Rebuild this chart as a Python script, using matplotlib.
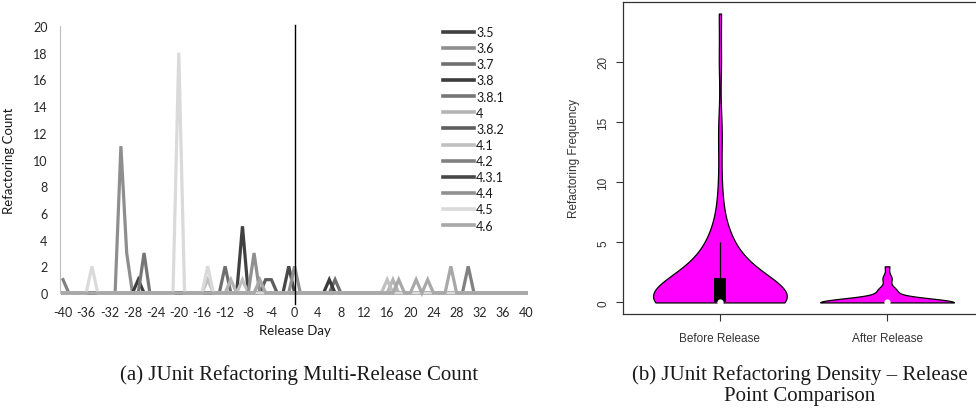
import matplotlib.pyplot as plt
import numpy as np

plt.rcParams["axes.unicode_minus"] = False

# ---- panel (a): refactoring count per release day -------------------------
days = np.arange(-40, 41)
day_ticks = np.arange(-40, 41, 4)

releases = ["3.5", "3.6", "3.7", "3.8", "3.8.1", "4", "3.8.2",
            "4.1", "4.2", "4.3.1", "4.4", "4.5", "4.6"]
release_colors = ["#404040", "#8e8e8e", "#6f6f6f", "#3c3c3c", "#767676",
                  "#b4b4b4", "#5e5e5e", "#c0c0c0", "#818181", "#484848",
                  "#909090", "#dadada", "#a8a8a8"]

# non-zero counts only (day -> refactorings); every other day is 0
counts_3_5 = {-9: 5}
counts_3_6 = {-30: 11, -29: 3}
counts_3_7 = {-12: 2, 7: 1}
counts_3_8 = {-27: 1, 6: 1}
counts_3_8_1 = {-26: 3}
counts_4 = {-11: 1, 17: 1}
counts_3_8_2 = {-5: 1, -4: 1}
counts_4_1 = {-15: 1, -9: 1, 16: 1}
counts_4_2 = {-40: 1, 30: 2}
counts_4_3_1 = {-1: 2}
counts_4_4 = {-7: 3, 0: 2}
counts_4_5 = {-35: 2, -20: 18, -15: 2}
counts_4_6 = {-6: 1, 18: 1, 21: 1, 23: 1, 27: 2}

release_counts = [counts_3_5, counts_3_6, counts_3_7, counts_3_8, counts_3_8_1,
                  counts_4, counts_3_8_2, counts_4_1, counts_4_2, counts_4_3_1,
                  counts_4_4, counts_4_5, counts_4_6]

# ---- panel (b): refactoring frequency before / after release ---------------
violin_labels = ["Before Release", "After Release"]
before_values = [0, 1, 2, 3, 4, 5, 6, 7, 8, 10, 13, 15, 20, 24]
before_freq = [46, 10, 12, 5, 4, 4, 1, 1, 1, 1, 1, 1, 1, 1]
after_values = [0, 1, 2, 3]
after_freq = [30, 4, 2, 1]

before_release = np.repeat(before_values, before_freq)
after_release = np.repeat(after_values, after_freq)

excel_font = "Lato"
r_font = "Liberation Sans"
caption_font = "Liberation Serif"

fig = plt.figure(figsize=(9.76, 4.1), dpi=100)

# ---------------------------------------------------------------- panel (a)
ax = fig.add_axes([0.0616, 0.2829, 0.4804, 0.6512])
for name, color, nonzero in zip(releases, release_colors, release_counts):
    series = np.array([nonzero.get(int(d), 0) for d in days])
    ax.plot(days, series, color=color, lw=2.3, label=name,
            solid_joinstyle="miter", clip_on=False)

ax.axvline(0, ymin=-0.04, ymax=1.005, color="black", lw=1.0, clip_on=False)

ax.set_xlim(-40.5, 40.5)
ax.set_ylim(0, 20)
ax.set_xticks(day_ticks)
ax.set_yticks(np.arange(0, 21, 2))
ax.tick_params(length=0, labelsize=9, colors="#262626", pad=9)
for lbl in ax.get_xticklabels() + ax.get_yticklabels():
    lbl.set_fontfamily(excel_font)
for side in ("top", "right", "bottom"):
    ax.spines[side].set_visible(False)
ax.spines["left"].set_color("#bfbfbf")
ax.spines["left"].set_linewidth(0.8)

ax.set_xlabel("Release Day", fontsize=9.5, family=excel_font,
              color="#1a1a1a", labelpad=5)
ax.set_ylabel("Refactoring Count", fontsize=9.5, family=excel_font,
              color="#1a1a1a", labelpad=13)

leg = ax.legend(loc="upper left", bbox_to_anchor=(0.454, 0.934),
                bbox_transform=fig.transFigure, frameon=False,
                prop={"family": excel_font, "size": 9},
                handlelength=2.5, handletextpad=0.15, labelspacing=0.33,
                borderpad=0, borderaxespad=0)
for h in leg.get_lines():
    h.set_linewidth(2.6)
for t in leg.get_texts():
    t.set_color("#1a1a1a")

fig.text(0.306, 1 - 375 / 410, "(a) JUnit Refactoring Multi-Release Count",
         ha="center", va="center", family=caption_font, fontsize=15,
         color="#1a1a1a")

# ---------------------------------------------------------------- panel (b)
bx = fig.add_axes([0.6383, 0.2317, 0.3699, 0.7610])
parts = bx.violinplot([before_release], positions=[1], widths=0.8,
                      showextrema=False, points=300)
parts_after = bx.violinplot([after_release], positions=[2], widths=0.8,
                            showextrema=False, points=300, bw_method=0.5)
for body in parts["bodies"] + parts_after["bodies"]:
    body.set_facecolor("#ff00ff")
    body.set_edgecolor("black")
    body.set_linewidth(0.9)
    body.set_alpha(1)

# box, whisker and median like R's vioplot
for pos, data in zip([1, 2], [before_release, after_release]):
    q1, med, q3 = np.percentile(data, [25, 50, 75])
    iqr = q3 - q1
    upper = data[data <= q3 + 1.5 * iqr].max()
    lower = data[data >= q1 - 1.5 * iqr].min()
    bx.vlines(pos, lower, upper, color="black", lw=0.9, zorder=3)
    bx.fill_between([pos - 0.035, pos + 0.035], q1, q3, color="black",
                    lw=0, zorder=3)
    bx.plot(pos, med, "o", color="white", ms=4.5, mec="none", zorder=4)

bx.set_xlim(0.42, 2.58)
bx.set_ylim(-0.96, 24.96)
bx.set_xticks([1, 2])
bx.set_xticklabels(violin_labels)
bx.set_yticks([0, 5, 10, 15, 20])
bx.tick_params(axis="both", length=5, width=0.8, labelsize=8.5,
               colors="#333333")
bx.tick_params(axis="x", pad=8)
bx.tick_params(axis="y", pad=5)
for lbl in bx.get_yticklabels():
    lbl.set_rotation(90)
    lbl.set_va("center")
for lbl in bx.get_xticklabels() + bx.get_yticklabels():
    lbl.set_fontfamily(r_font)
for sp in bx.spines.values():
    sp.set_color("#333333")
    sp.set_linewidth(0.9)
bx.set_ylabel("Refactoring Frequency", fontsize=8.5, family=r_font,
              color="#333333", labelpad=12)

fig.text(0.8197, 1 - 375 / 410, "(b) JUnit Refactoring Density \u2013 Release",
         ha="center", va="center", family=caption_font, fontsize=15,
         color="#1a1a1a")
fig.text(0.8197, 1 - 397 / 410, "Point Comparison",
         ha="center", va="center", family=caption_font, fontsize=15,
         color="#1a1a1a")

fig.savefig("out.png", dpi=100)
